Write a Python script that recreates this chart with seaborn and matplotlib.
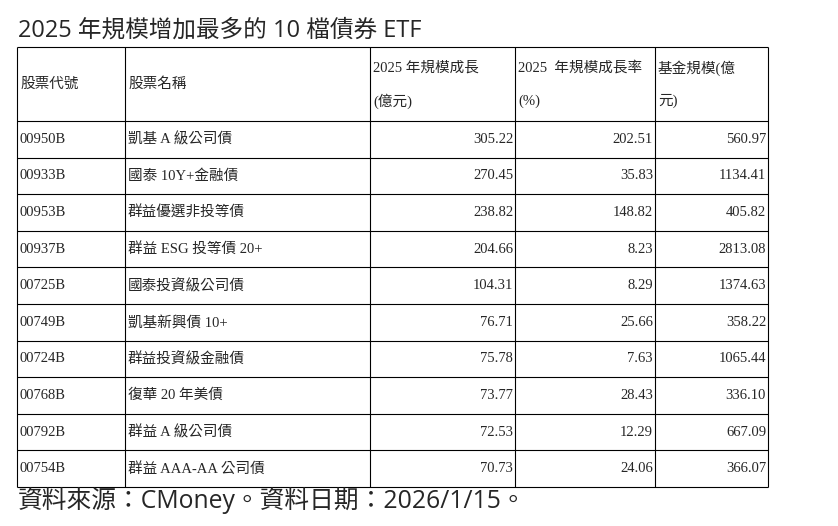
import matplotlib
matplotlib.use("Agg")
import matplotlib.pyplot as plt
import seaborn as sns

sns.set_theme(style="white")
plt.rcParams['font.family'] = ['Liberation Serif', 'Noto Sans CJK TC', 'DejaVu Sans']

codes = ["00950B","00933B","00953B","00937B","00725B","00749B","00724B","00768B","00792B","00754B"]
names = ["凱基 A 級公司債","國泰 10Y+金融債","群益優選非投等債","群益 ESG 投等債 20+","國泰投資級公司債",
         "凱基新興債 10+","群益投資級金融債","復華 20 年美債","群益 A 級公司債","群益 AAA-AA 公司債"]
growth = [305.22,270.45,238.82,204.66,104.31,76.71,75.78,73.77,72.53,70.73]
rate = [202.51,35.83,148.82,8.23,8.29,25.66,7.63,28.43,12.29,24.06]
size = [560.97,1134.41,405.82,2813.08,1374.63,358.22,1065.44,336.10,667.09,366.07]
headers = [("股票代號",""),("股票名稱",""),("2025 年規模成長","(億元)"),("2025  年規模成長率","(%)"),("基金規模(億","元)")]

fig = plt.figure(figsize=(8.38,5.26), dpi=100)
ax = fig.add_axes([0,0,1,1])
ax.set_xlim(0,838); ax.set_ylim(526,0); ax.axis('off')

cols = [17,125,370,515,655,768]
rows = [47,121] + [121+36.6*(i+1) for i in range(10)]
for x in cols:
    ax.vlines(x, rows[0], rows[-1], color='black', lw=0.8)
for y in rows:
    ax.hlines(y, cols[0], cols[-1], color='black', lw=0.8)

cjk = ['Noto Sans CJK TC','DejaVu Sans']
ax.text(18, 31, "2025 年規模增加最多的 10 檔債券 ETF", fontsize=17, va='center', family=['Open Sans']+cjk)
ax.text(18, 501, "資料來源：CMoney。資料日期：2026/1/15。", fontsize=17.8, va='center', family=['Open Sans']+cjk)

fs = 10.5
for j,(a,b) in enumerate(headers):
    if b:
        ax.text(cols[j]+3, 68, a, fontsize=fs, va='center')
        ax.text(cols[j]+3, 101, b, fontsize=fs, va='center')
    else:
        ax.text(cols[j]+3, 84, a, fontsize=fs, va='center')

for i in range(10):
    yc = (rows[i+1]+rows[i+2])/2
    ax.text(cols[0]+2, yc, codes[i], fontsize=fs, va='center')
    ax.text(cols[1]+3, yc, names[i], fontsize=fs, va='center')
    ax.text(cols[3]-2, yc, f"{growth[i]:.2f}", fontsize=fs, va='center', ha='right')
    ax.text(cols[4]-2, yc, f"{rate[i]:.2f}", fontsize=fs, va='center', ha='right')
    ax.text(cols[5]-2, yc, f"{size[i]:.2f}", fontsize=fs, va='center', ha='right')

fig.savefig("out.png", dpi=100)
